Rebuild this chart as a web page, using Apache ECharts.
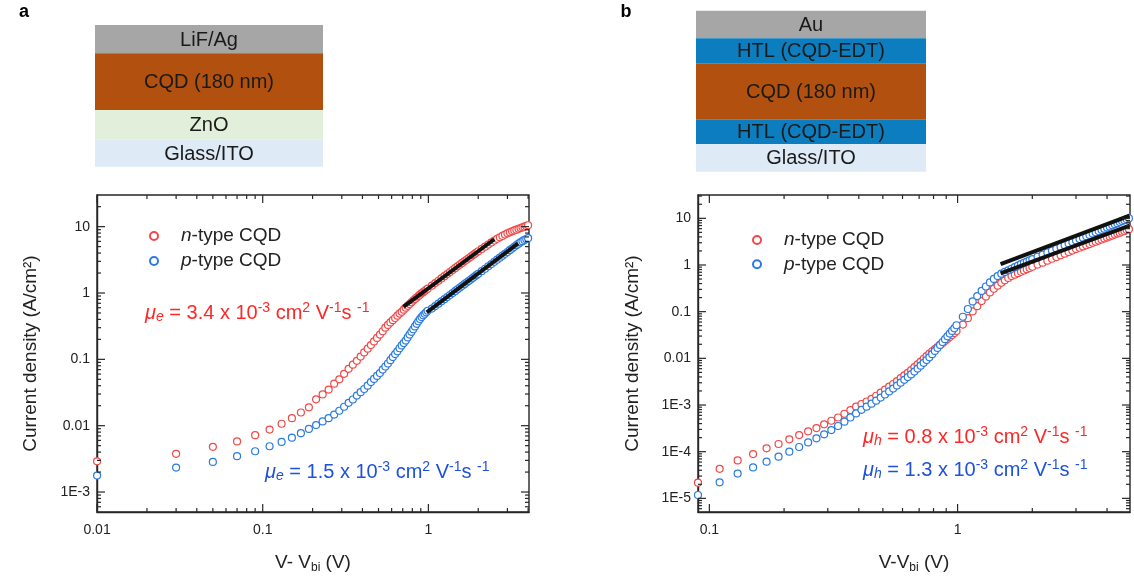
<!DOCTYPE html>
<html>
<head>
<meta charset="utf-8">
<title>CQD space-charge-limited current</title>
<script src="https://cdn.jsdelivr.net/npm/echarts@6/dist/echarts.min.js"></script>
<style>
  html, body { margin: 0; padding: 0; background: #fff; }
  #chart { width: 1134px; height: 581px; }
</style>
</head>
<body>
<div id="chart"></div>
<script>
const FONT = '"Liberation Sans", Arial, sans-serif';

// panel a: electron-only devices, J (A/cm2) against V - Vbi (V)
const aVoltage = [0.01, 0.03, 0.05, 0.07, 0.09, 0.11, 0.13, 0.15, 0.17, 0.19,
  0.21, 0.23, 0.25, 0.27, 0.29, 0.31, 0.33, 0.35, 0.37, 0.39,
  0.41, 0.43, 0.45, 0.47, 0.49, 0.51, 0.53, 0.55, 0.57, 0.59,
  0.61, 0.63, 0.65, 0.67, 0.69, 0.71, 0.73, 0.75, 0.77, 0.79,
  0.81, 0.83, 0.85, 0.87, 0.89, 0.91, 0.93, 0.95, 0.97, 0.99,
  1.05, 1.1, 1.15, 1.2, 1.25, 1.3, 1.35, 1.4, 1.45, 1.5,
  1.55, 1.6, 1.65, 1.7, 1.75, 1.8, 1.85, 1.9, 1.95, 2.0,
  2.1, 2.2, 2.3, 2.4, 2.5, 2.6, 2.7, 2.8, 2.9, 3.0,
  3.1, 3.2, 3.3, 3.4, 3.5, 3.6, 3.7, 3.8, 3.9, 4.0];
const aNType = [0.0029, 0.00376, 0.0048, 0.0058, 0.0072, 0.00875, 0.0107, 0.013, 0.0158, 0.0189,
  0.025, 0.0296, 0.035, 0.043, 0.05, 0.0605, 0.072, 0.083, 0.095, 0.11,
  0.127, 0.145, 0.164, 0.186, 0.21, 0.236, 0.265, 0.3, 0.33, 0.36,
  0.39, 0.42, 0.455, 0.49, 0.52, 0.56, 0.6, 0.64, 0.68, 0.725,
  0.77, 0.81, 0.855, 0.9, 0.945, 0.99, 1.03, 1.07, 1.12, 1.16,
  1.29, 1.41, 1.53, 1.66, 1.79, 1.93, 2.07, 2.22, 2.37, 2.52,
  2.68, 2.84, 3.0, 3.17, 3.34, 3.52, 3.7, 3.88, 4.07, 4.26,
  4.62, 5.0, 5.38, 5.78, 6.18, 6.55, 6.9, 7.25, 7.6, 7.95,
  8.22, 8.5, 8.76, 9.02, 9.27, 9.52, 9.77, 10.0, 10.25, 10.5];
const aPType = [0.00177, 0.00234, 0.00284, 0.00347, 0.00412, 0.0049, 0.0057, 0.0066, 0.0077, 0.00895,
  0.0102, 0.0116, 0.013, 0.0147, 0.0168, 0.0193, 0.0221, 0.0248, 0.0284, 0.032,
  0.0357, 0.0401, 0.0455, 0.0507, 0.0563, 0.062, 0.07, 0.078, 0.0865, 0.097,
  0.108, 0.12, 0.132, 0.147, 0.162, 0.176, 0.192, 0.214, 0.236, 0.26,
  0.284, 0.313, 0.343, 0.375, 0.404, 0.433, 0.46, 0.487, 0.512, 0.54,
  0.583, 0.636, 0.691, 0.748, 0.808, 0.869, 0.933, 0.998, 1.066, 1.136,
  1.208, 1.281, 1.357, 1.435, 1.515, 1.597, 1.682, 1.768, 1.855, 1.945,
  2.13, 2.32, 2.53, 2.73, 2.95, 3.18, 3.41, 3.65, 3.9, 4.15,
  4.42, 4.68, 4.96, 5.25, 5.54, 5.8, 6.05, 6.3, 6.5, 6.7];

// panel b: hole-only devices
const bVoltage = [0.09, 0.11, 0.13, 0.15, 0.17, 0.19, 0.21, 0.23, 0.25, 0.27,
  0.29, 0.31, 0.33, 0.35, 0.37, 0.39, 0.41, 0.43, 0.45, 0.47,
  0.49, 0.51, 0.53, 0.55, 0.57, 0.59, 0.61, 0.63, 0.65, 0.67,
  0.69, 0.71, 0.73, 0.75, 0.77, 0.79, 0.81, 0.83, 0.85, 0.87,
  0.89, 0.91, 0.93, 0.95, 0.97, 0.99,
  1.05, 1.1, 1.15, 1.2, 1.25, 1.3, 1.35, 1.4, 1.45, 1.5,
  1.55, 1.6, 1.65, 1.7, 1.75, 1.8, 1.85, 1.9, 1.95, 2.0,
  2.1, 2.2, 2.3, 2.4, 2.5, 2.6, 2.7, 2.8, 2.9, 3.0,
  3.1, 3.2, 3.3, 3.4, 3.5, 3.6, 3.7, 3.8, 3.9, 4.0,
  4.1, 4.2, 4.3, 4.4, 4.5, 4.6, 4.7, 4.8, 4.9];
const bNType = [2.17e-5, 4.3e-5, 6.5e-5, 8.9e-5, 1.18e-4, 1.46e-4, 1.84e-4, 2.27e-4, 2.73e-4, 3.2e-4,
  3.85e-4, 4.6e-4, 5.4e-4, 6.5e-4, 7.8e-4, 9.2e-4, 1.05e-3, 1.19e-3, 1.36e-3, 1.58e-3,
  1.85e-3, 2.14e-3, 2.47e-3, 2.82e-3, 3.26e-3, 3.76e-3, 4.3e-3, 4.9e-3, 5.6e-3, 6.5e-3,
  7.4e-3, 8.5e-3, 9.8e-3, 0.0111, 0.0126, 0.0142, 0.0158, 0.0175, 0.0194, 0.0213,
  0.0236, 0.026, 0.0287, 0.0316, 0.0347, 0.0386,
  0.0528, 0.0727, 0.101, 0.131, 0.169, 0.211, 0.259, 0.31, 0.36, 0.415,
  0.469, 0.527, 0.58, 0.62, 0.667, 0.714, 0.762, 0.813, 0.863, 0.917,
  1.02, 1.12, 1.24, 1.36, 1.48, 1.61, 1.75, 1.89, 2.04, 2.19,
  2.34, 2.5, 2.65, 2.81, 2.98, 3.16, 3.33, 3.52, 3.7, 3.89,
  4.1, 4.29, 4.5, 4.71, 4.93, 5.15, 5.38, 5.61, 5.85];
const bPType = [1.18e-5, 2.2e-5, 3.4e-5, 4.6e-5, 6.1e-5, 7.8e-5, 1.0e-4, 1.26e-4, 1.58e-4, 1.93e-4,
  2.35e-4, 2.9e-4, 3.55e-4, 4.4e-4, 5.4e-4, 6.6e-4, 7.9e-4, 9.2e-4, 1.07e-3, 1.24e-3,
  1.44e-3, 1.68e-3, 1.95e-3, 2.25e-3, 2.61e-3, 3.01e-3, 3.46e-3, 3.96e-3, 4.52e-3, 5.2e-3,
  6.04e-3, 6.97e-3, 8.0e-3, 9.2e-3, 0.0105, 0.0123, 0.0144, 0.0167, 0.0194, 0.0224,
  0.0258, 0.0296, 0.0339, 0.0387, 0.044, 0.0512,
  0.0778, 0.114, 0.166, 0.216, 0.278, 0.346, 0.424, 0.504, 0.58, 0.65,
  0.71, 0.77, 0.83, 0.9, 0.97, 1.04, 1.11, 1.18, 1.26, 1.34,
  1.5, 1.67, 1.85, 2.04, 2.24, 2.44, 2.65, 2.87, 3.1, 3.33,
  3.59, 3.85, 4.13, 4.41, 4.71, 5.02, 5.34, 5.67, 6.01, 6.36,
  6.72, 7.1, 7.49, 7.88, 8.29, 8.71, 9.14, 9.59, 10.04];

// SCLC fit lines, end points [V, J]
const aFitN = [[0.707, 0.62], [2.5, 6.46]];
const aFitP = [[0.978, 0.51], [3.48, 5.6]];
const bFitP = [[1.49, 1.05], [4.93, 11.4]];
const bFitN = [[1.49, 0.66], [4.93, 7.0]];

// axis ranges and labelled decades
const aXRange = [0.00999, 4.05];
const aYRange = [5e-4, 30];
const bXRange = [0.09, 4.95];
const bYRange = [5.1e-6, 31.6];
const aXMajor = [0.01, 0.1, 1];
const aYMajor = [1e-3, 0.01, 0.1, 1, 10];
const bXMajor = [0.1, 1];
const bYMajor = [1e-5, 1e-4, 1e-3, 0.01, 0.1, 1, 10];

const RED = '#f24848';
const BLUE = '#2a7be0';
const RED_TEXT = '#ff2626';
const BLUE_TEXT = '#1f52dc';
const FRAME = '#262626';

const pairs = (xs, ys) => xs.map((x, i) => [x, ys[i]]);

function minorTicks(lo, hi) {
  const out = [];
  for (let e = Math.floor(Math.log10(lo)); e <= Math.ceil(Math.log10(hi)); e++) {
    for (let m = 2; m <= 9; m++) {
      const v = +(m * Math.pow(10, e)).toPrecision(3);
      if (v > lo && v < hi) out.push(v);
    }
  }
  return out;
}

function logLabel(v) {
  const e = Math.round(Math.log10(v));
  return e <= -3 ? '1E' + e : String(+Math.pow(10, e).toPrecision(3));
}

const nameStyle = {
  fontSize: 19, color: '#222', fontFamily: FONT, lineHeight: 22,
  rich: { sub: { fontSize: 12, lineHeight: 8, verticalAlign: 'bottom', color: '#222', fontFamily: FONT } }
};

function xAxisFor(gridIndex, range, majors, name) {
  return {
    type: 'log', logBase: 10, gridIndex, min: range[0], max: range[1],
    name, nameLocation: 'middle', nameGap: 40, nameTextStyle: nameStyle,
    axisLine: { show: true, onZero: false, lineStyle: { color: FRAME, width: 1.4 } },
    axisTick: { show: false },
    axisLabel: { customValues: majors, formatter: logLabel, margin: 11, fontSize: 14, color: '#222', fontFamily: FONT },
    splitLine: { show: false }, minorTick: { show: false }, minorSplitLine: { show: false }
  };
}
function yAxisFor(gridIndex, range, majors, gap) {
  return {
    type: 'log', logBase: 10, gridIndex, min: range[0], max: range[1],
    name: 'Current density (A/cm²)', nameLocation: 'middle', nameRotate: 90, nameGap: gap,
    nameTextStyle: nameStyle,
    axisLine: { show: true, onZero: false, lineStyle: { color: FRAME, width: 1.4 } },
    axisTick: { show: false },
    axisLabel: { customValues: majors, formatter: logLabel, margin: 7, fontSize: 14, color: '#222', fontFamily: FONT },
    splitLine: { show: false }, minorTick: { show: false }, minorSplitLine: { show: false }
  };
}

// inward ticks on all four sides, placed through the axes: [value, other-axis value, length]
function tickSeries(dim, axis, majors, range, otherMin) {
  const data = majors.map(v => [v, otherMin, 8]).concat(minorTicks(range[0], range[1]).map(v => [v, otherMin, 4]));
  return {
    type: 'custom', xAxisIndex: axis, yAxisIndex: axis, silent: true, z: 5,
    data: dim === 'x' ? data : data.map(d => [d[1], d[0], d[2]]),
    renderItem(params, api) {
      const cs = params.coordSys;
      const p = api.coord([api.value(0), api.value(1)]);
      const len = api.value(2);
      const st = { stroke: FRAME, lineWidth: 1.2 };
      if (dim === 'x') {
        return { type: 'group', children: [
          { type: 'line', shape: { x1: p[0], y1: cs.y + cs.height, x2: p[0], y2: cs.y + cs.height - len }, style: st },
          { type: 'line', shape: { x1: p[0], y1: cs.y, x2: p[0], y2: cs.y + len }, style: st }
        ] };
      }
      return { type: 'group', children: [
        { type: 'line', shape: { x1: cs.x, y1: p[1], x2: cs.x + len, y2: p[1] }, style: st },
        { type: 'line', shape: { x1: cs.x + cs.width, y1: p[1], x2: cs.x + cs.width - len, y2: p[1] }, style: st }
      ] };
    }
  };
}

function scatter(name, data, color, axis) {
  return {
    type: 'scatter', name, data, xAxisIndex: axis, yAxisIndex: axis,
    symbol: 'circle', symbolSize: 7,
    itemStyle: { color: '#fff', borderColor: color, borderWidth: 1.2, opacity: 1 },
    emphasis: { disabled: true }, z: 2
  };
}
function fitLine(data, axis) {
  return {
    type: 'line', data, xAxisIndex: axis, yAxisIndex: axis, symbol: 'none',
    lineStyle: { color: '#111', width: 4 }, z: 4, silent: true
  };
}

function legendAt(left, top, gap) {
  return {
    left, top, orient: 'vertical', icon: 'circle', itemWidth: 8, itemHeight: 8, itemGap: gap,
    selectedMode: false, data: ['n-type CQD', 'p-type CQD'],
    formatter: name => '{i|' + name.charAt(0) + '}' + name.slice(1),
    textStyle: {
      fontSize: 19, lineHeight: 20, color: '#222', fontFamily: FONT, padding: [0, 0, 0, 18],
      rich: { i: { fontStyle: 'italic', fontSize: 19, color: '#222', fontFamily: FONT } }
    }
  };
}

function mobility(x, y, sym, value, color) {
  const base = { fill: color, fontFamily: FONT };
  return {
    type: 'text', x, y, z: 10,
    style: {
      text: '{m|μ}{s|' + sym + '}{t| = ' + value + ' x 10}{p|-3}{t| cm}{p|2}{t| V}{p|-1}{t|s }{p|-1}',
      verticalAlign: 'middle', align: 'left',
      rich: {
        m: Object.assign({ fontSize: 20, lineHeight: 23, fontStyle: 'italic' }, base),
        s: Object.assign({ fontSize: 14, lineHeight: 8, fontStyle: 'italic', verticalAlign: 'bottom' }, base),
        t: Object.assign({ fontSize: 20, lineHeight: 23 }, base),
        p: Object.assign({ fontSize: 14, lineHeight: 14, verticalAlign: 'top' }, base)
      }
    }
  };
}

// device stacks drawn above each plot: [top, height, fill, label]
const stackA = [[25, 28.3, '#a6a6a6', 'LiF/Ag'], [53.3, 56.7, '#b1500f', 'CQD (180 nm)'],
  [110, 29.3, '#e2efda', 'ZnO'], [139.3, 27.4, '#deebf7', 'Glass/ITO']];
const stackB = [[10.7, 27.6, '#a6a6a6', 'Au'], [38.3, 25, '#0c7ec0', 'HTL (CQD-EDT)'],
  [63.3, 56, '#b1500f', 'CQD (180 nm)'], [119.3, 24.7, '#0c7ec0', 'HTL (CQD-EDT)'],
  [144, 27.7, '#deebf7', 'Glass/ITO']];

function stackGraphics(left, width, layers) {
  const out = [];
  layers.forEach(([top, h, fill, label]) => {
    out.push({ type: 'rect', shape: { x: left, y: top, width, height: h }, style: { fill } });
    out.push({ type: 'text', x: left + width / 2, y: top + h / 2 + 1,
      style: { text: label, fill: '#1a1a1a', fontSize: 20, fontFamily: FONT, align: 'center', verticalAlign: 'middle' } });
  });
  return out;
}

const chart = echarts.init(document.getElementById('chart'), null, { renderer: 'canvas' });

chart.setOption({
  animation: false,
  backgroundColor: '#fff',
  grid: [
    { left: 97, top: 195, width: 432, height: 317, show: true, borderColor: FRAME, borderWidth: 1.4 },
    { left: 698, top: 195, width: 432, height: 317, show: true, borderColor: FRAME, borderWidth: 1.4 }
  ],
  xAxis: [
    xAxisFor(0, aXRange, aXMajor, 'V- V{sub|bi} (V)'),
    xAxisFor(1, bXRange, bXMajor, 'V-V{sub|bi} (V)')
  ],
  yAxis: [
    yAxisFor(0, aYRange, aYMajor, 55),
    yAxisFor(1, bYRange, bYMajor, 54)
  ],
  legend: [legendAt(144, 221, 5), legendAt(747, 225, 4.3)],
  series: [
    scatter('n-type CQD', pairs(aVoltage, aNType), RED, 0),
    scatter('p-type CQD', pairs(aVoltage, aPType), BLUE, 0),
    fitLine(aFitN, 0),
    fitLine(aFitP, 0),
    scatter('n-type CQD', pairs(bVoltage, bNType), RED, 1),
    scatter('p-type CQD', pairs(bVoltage, bPType), BLUE, 1),
    fitLine(bFitP, 1),
    fitLine(bFitN, 1),
    tickSeries('x', 0, aXMajor, aXRange, aYRange[0]),
    tickSeries('y', 0, aYMajor, aYRange, aXRange[0]),
    tickSeries('x', 1, bXMajor, bXRange, bYRange[0]),
    tickSeries('y', 1, bYMajor, bYRange, bXRange[0])
  ],
  graphic: [].concat(
    stackGraphics(95, 228, stackA),
    stackGraphics(696, 230, stackB),
    [
      { type: 'text', x: 24, y: 12, style: { text: 'a', fontSize: 18, fontWeight: 'bold', fill: '#000',
        fontFamily: FONT, align: 'center', verticalAlign: 'middle' } },
      { type: 'text', x: 626, y: 12, style: { text: 'b', fontSize: 18, fontWeight: 'bold', fill: '#000',
        fontFamily: FONT, align: 'center', verticalAlign: 'middle' } },
      mobility(145, 313, 'e', '3.4', RED_TEXT),
      mobility(265, 472, 'e', '1.5', BLUE_TEXT),
      mobility(863, 437, 'h', '0.8', RED_TEXT),
      mobility(863, 470, 'h', '1.3', BLUE_TEXT)
    ]
  )
});
</script>
</body>
</html>
